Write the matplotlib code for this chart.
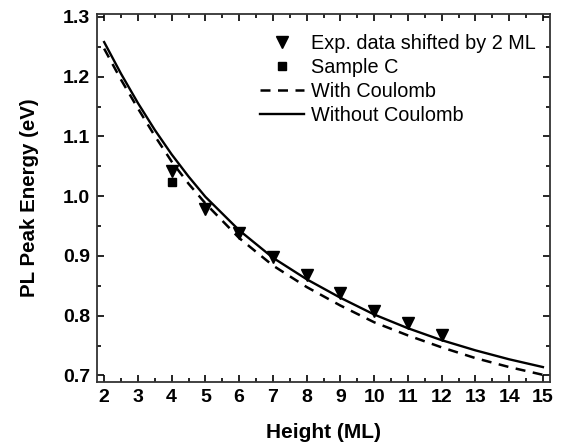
import numpy as np
import matplotlib
matplotlib.use("Agg")
import matplotlib.pyplot as plt
from matplotlib.ticker import MultipleLocator

plt.rcParams['font.family'] = ['Liberation Sans', 'DejaVu Sans']

# experimental PL peaks (shifted by 2 ML)
exp_height = [4, 5, 6, 7, 8, 9, 10, 11, 12]
exp_energy = [1.043, 0.978, 0.939, 0.898, 0.868, 0.838, 0.808, 0.787, 0.767]

# sample C
sample_height = [4]
sample_energy = [1.024]

# calculated curves
calc_height = [2, 2.5, 3, 3.5, 4, 4.5, 5, 6, 7, 8, 9, 10, 11, 12, 13, 14, 15]
with_coulomb = [1.247, 1.195, 1.147, 1.101, 1.058, 1.021, 0.988, 0.930, 0.884,
                0.848, 0.817, 0.789, 0.767, 0.747, 0.729, 0.714, 0.701]
without_coulomb = [1.258, 1.205, 1.156, 1.111, 1.070, 1.033, 0.999, 0.943, 0.897,
                   0.861, 0.830, 0.802, 0.779, 0.759, 0.742, 0.727, 0.714]

fig = plt.figure(figsize=(5.61, 4.47), dpi=100)
ax = fig.add_axes([0.173, 0.1454, 0.8074, 0.8233])

ax.plot(exp_height, exp_energy, 'v', color='black', markersize=9,
        label='Exp. data shifted by 2 ML')
ax.plot(sample_height, sample_energy, 's', color='black', markersize=6,
        label='Sample C')
ax.plot(calc_height, with_coulomb, '--', color='black', linewidth=1.8,
        dashes=(4, 3), label='With Coulomb')
ax.plot(calc_height, without_coulomb, '-', color='black', linewidth=1.7,
        label='Without Coulomb')

ax.set_xlim(1.79, 15.21)
ax.set_ylim(0.689, 1.305)
ax.xaxis.set_major_locator(MultipleLocator(1))
ax.xaxis.set_minor_locator(MultipleLocator(0.5))
ax.yaxis.set_major_locator(MultipleLocator(0.1))
ax.yaxis.set_minor_locator(MultipleLocator(0.05))
ax.yaxis.set_major_formatter(matplotlib.ticker.FormatStrFormatter('%.1f'))

ax.tick_params(which='both', direction='in', top=True, right=True, width=1.2)
ax.tick_params(which='major', length=5, labelsize=14, pad=5)
ax.tick_params(which='minor', length=3)
for lab in ax.get_xticklabels() + ax.get_yticklabels():
    lab.set_fontweight('bold')
for sp in ax.spines.values():
    sp.set_linewidth(1.3)
    sp.set_color('#333333')

ax.set_xlabel('Height (ML)', fontsize=15, fontweight='bold', labelpad=12)
ax.set_ylabel('PL Peak Energy (eV)', fontsize=14.8, fontweight='bold', labelpad=17)

ax.legend(loc='upper right', frameon=False, fontsize=14.3, handlelength=2.2,
          handletextpad=0.35, labelspacing=0.25, borderaxespad=0.2,
          bbox_to_anchor=(0.995, 0.978))

fig.savefig('out.png', dpi=100)
